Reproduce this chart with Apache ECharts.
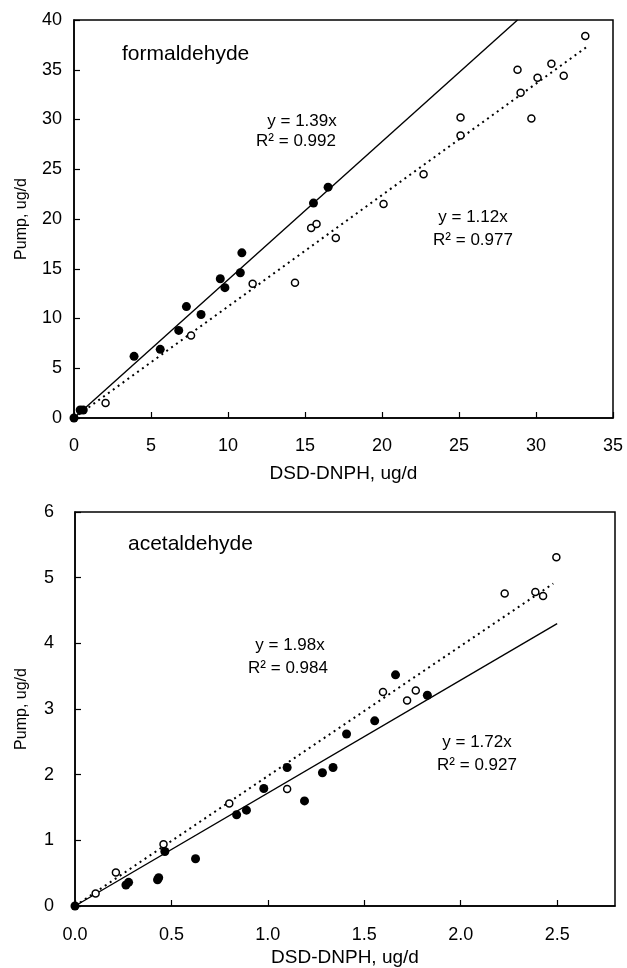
<!DOCTYPE html>
<html><head><meta charset="utf-8">
<script src="https://cdn.jsdelivr.net/npm/echarts@6/dist/echarts.min.js"></script>
<style>html,body{margin:0;padding:0;background:#fff}#c{width:627px;height:968px}</style>
</head><body><div id="c"></div>
<script>
// ---- formaldehyde (top panel) ----
const formFilled = [[0,0],[0.4,0.8],[0.6,0.8],[3.9,6.2],[5.6,6.9],[6.8,8.8],[7.3,11.2],[8.25,10.4],[9.5,14.0],[9.8,13.1],[10.8,14.6],[10.9,16.6],[15.55,21.6],[16.5,23.2]];
const formOpen = [[2.05,1.5],[7.6,8.3],[11.6,13.5],[14.35,13.6],[15.4,19.1],[15.75,19.5],[17.0,18.1],[20.1,21.5],[22.7,24.5],[25.1,30.2],[25.1,28.4],[28.8,35.0],[29.0,32.7],[29.7,30.1],[30.1,34.2],[31.0,35.6],[31.8,34.4],[33.2,38.4]];
const formFitFilled = [[0,0],[28.8,40]];   // y = 1.39x
const formFitOpen = [[0,0],[33.3,37.3]];   // y = 1.12x
// ---- acetaldehyde (bottom panel) ----
const acetFilled = [[0,0],[0.264,0.32],[0.278,0.36],[0.428,0.40],[0.434,0.43],[0.466,0.83],[0.625,0.72],[0.838,1.39],[0.889,1.46],[0.979,1.79],[1.10,2.11],[1.19,1.60],[1.283,2.03],[1.338,2.11],[1.408,2.62],[1.554,2.82],[1.662,3.52],[1.827,3.21]];
const acetOpen = [[0.107,0.19],[0.212,0.51],[0.459,0.94],[0.80,1.56],[1.10,1.78],[1.597,3.26],[1.722,3.13],[1.767,3.28],[2.228,4.76],[2.387,4.78],[2.427,4.72],[2.496,5.31]];
const acetFitOpen = [[0,0],[2.48,4.91]];   // y = 1.98x
const acetFitFilled = [[0,0],[2.5,4.3]];   // y = 1.72x
// ---- labels ----
const titles = ['formaldehyde','acetaldehyde'];
const xName = 'DSD-DNPH, ug/d';
const yName = 'Pump, ug/d';
const eqText = [['y = 1.39x','R\u00b2 = 0.992'],['y = 1.12x','R\u00b2 = 0.977'],['y = 1.98x','R\u00b2 = 0.984'],['y = 1.72x','R\u00b2 = 0.927']];

const FONT = 'Liberation Sans, Arial, sans-serif';
const chart = echarts.init(document.getElementById('c'));
function xAxis(gi, max, interval, fmt, margin, nameGap){
  return {gridIndex:gi, type:'value', min:0, max:max, interval:interval,
    name:xName, nameLocation:'middle', nameGap:nameGap,
    nameTextStyle:{color:'#000', fontFamily:FONT, fontSize:19},
    axisLine:{show:true,lineStyle:{color:'#000',width:1.5}},
    axisTick:{show:true,inside:true,length:6,lineStyle:{color:'#000',width:1.2}},
    axisLabel:{color:'#000',fontFamily:FONT,fontSize:18,margin:margin,showMaxLabel:fmt?false:true,
      formatter: fmt ? (v=>v.toFixed(1)) : (v=>String(v))},
    splitLine:{show:false}};
}
function yAxis(gi, max, interval, margin, nameGap){
  return {gridIndex:gi, type:'value', min:0, max:max, interval:interval,
    name:yName, nameLocation:'middle', nameGap:nameGap, nameRotate:90,
    nameTextStyle:{color:'#000', fontFamily:FONT, fontSize:16},
    axisLine:{show:true,lineStyle:{color:'#000',width:1.5}},
    axisTick:{show:true,inside:true,length:6,lineStyle:{color:'#000',width:1.2}},
    axisLabel:{color:'#000',fontFamily:FONT,fontSize:18,margin:margin},
    splitLine:{show:false}};
}
const filledStyle = {color:'#000', opacity:1};
const openStyle = {color:'#fff', borderColor:'#000', borderWidth:1.5, opacity:1};
function sc(xi, data, filled){
  return {type:'scatter', xAxisIndex:xi, yAxisIndex:xi, data:data, symbol:'circle',
    symbolSize: filled?9:7, itemStyle: filled?filledStyle:openStyle, z:5, silent:true};
}
function ln(xi, data, dotted){
  return {type:'line', xAxisIndex:xi, yAxisIndex:xi, data:data, symbol:'none', silent:true, z:3,
    lineStyle:{color:'#000', width: dotted?2:1.4, type: dotted?[2,4]:'solid'}};
}
function txt(x,y,s,size){
  return {type:'text', left:x, top:y, style:{text:s, fill:'#000', font: size+'px '+FONT}};
}
function ctext(cx,y,s){
  return {type:'text', x:cx, y:y, style:{text:s, fill:'#000', font:'17px '+FONT, textAlign:'center', textVerticalAlign:'middle'}};
}
chart.setOption({
  animation:false,
  grid:[
    {left:74, top:20, width:539, height:398, show:true, borderColor:'#000', borderWidth:1.5, backgroundColor:'#fff'},
    {left:75, top:512, width:540, height:395, show:true, borderColor:'#000', borderWidth:1.5, backgroundColor:'#fff'}
  ],
  xAxis:[xAxis(0,35,5,false,19,46), xAxis(1,2.8,0.5,true,20,42)],
  yAxis:[yAxis(0,40,5,12,44), yAxis(1,6,1,21,45)],
  series:[
    ln(0, formFitFilled, false), ln(0, formFitOpen, true),
    sc(0, formOpen, false), sc(0, formFilled, true),
    ln(1, acetFitOpen, true), ln(1, acetFitFilled, false),
    sc(1, acetOpen, false), sc(1, acetFilled, true)
  ],
  graphic:[
    txt(122,44,titles[0],21), txt(128,534,titles[1],21),
    ctext(302,121,eqText[0][0]), ctext(296,141,eqText[0][1]),
    ctext(473,217,eqText[1][0]), ctext(473,240,eqText[1][1]),
    ctext(290,645,eqText[2][0]), ctext(288,668,eqText[2][1]),
    ctext(477,742,eqText[3][0]), ctext(477,765,eqText[3][1])
  ]
});
</script></body></html>
